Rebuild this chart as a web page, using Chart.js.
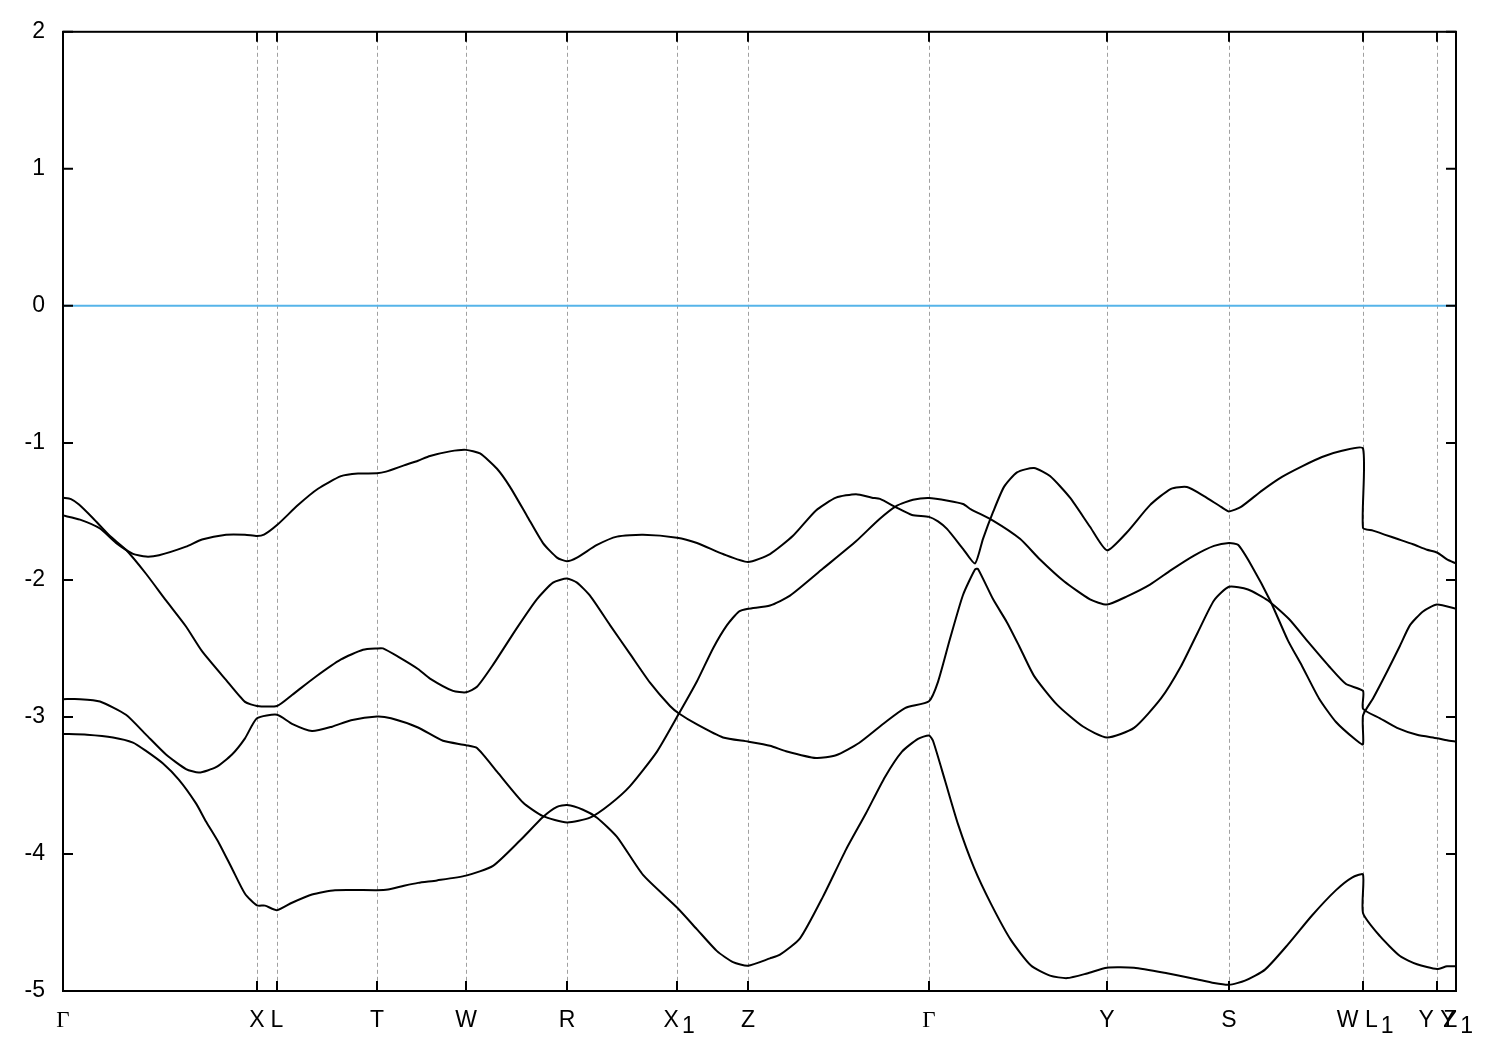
<!DOCTYPE html>
<html>
<head>
<meta charset="utf-8">
<script src="https://cdn.jsdelivr.net/npm/chart.js@4.4.1/dist/chart.umd.min.js"></script>
<style>
  html, body { margin: 0; padding: 0; background: #ffffff; }
  #bands { display: block; }
</style>
</head>
<body>
<canvas id="bands" width="1500" height="1050"></canvas>
<script>
// high-symmetry points along the k-path
const kTicks = [0, 1.94, 2.14, 3.14, 4.03, 5.04, 6.14, 6.85, 8.66, 10.44, 11.66, 13.00, 13.74, 13.93];
const kLabels = ['Γ', 'X', 'L', 'T', 'W', 'R', 'X', 'Z', 'Γ', 'Y', 'S', 'W L', 'Y Y', 'Z'];
const kSubs = ['', '', '', '', '', '', '1', '', '', '', '', '1', '', '1'];
const energyMin = -5;
const energyMax = 2;
const fermiLevel = 0;

// bands as [k, E] pairs
const band1 = [[0.00,-1.40],[0.08,-1.41],[0.16,-1.45],[0.30,-1.55],[0.47,-1.68],[0.63,-1.78],[0.83,-1.955],[1.03,-2.15],[1.23,-2.34],[1.39,-2.52],[1.63,-2.73],[1.82,-2.89],[1.94,-2.92],[2.14,-2.92],[2.29,-2.84],[2.52,-2.71],[2.78,-2.58],[3.00,-2.51],[3.14,-2.50],[3.20,-2.50],[3.35,-2.56],[3.55,-2.65],[3.67,-2.72],[3.90,-2.81],[4.03,-2.82],[4.14,-2.78],[4.30,-2.62],[4.54,-2.35],[4.74,-2.14],[4.90,-2.02],[5.04,-1.99],[5.14,-2.02],[5.27,-2.115],[5.47,-2.33],[5.67,-2.54],[5.87,-2.75],[6.07,-2.92],[6.16,-2.975],[6.34,-3.055],[6.60,-3.15],[6.85,-3.18],[7.07,-3.21],[7.23,-3.25],[7.53,-3.30],[7.73,-3.28],[7.96,-3.19],[8.22,-3.04],[8.42,-2.935],[8.66,-2.885],[8.75,-2.744],[8.87,-2.43],[9.00,-2.11],[9.12,-1.924],[9.15,-1.92],[9.30,-2.14],[9.44,-2.31],[9.56,-2.48],[9.71,-2.70],[9.94,-2.91],[10.20,-3.07],[10.44,-3.15],[10.71,-3.08],[10.98,-2.865],[11.18,-2.63],[11.35,-2.38],[11.51,-2.15],[11.66,-2.05],[11.85,-2.07],[12.05,-2.15],[12.26,-2.285],[12.46,-2.46],[12.66,-2.63],[12.83,-2.76],[13.00,-2.81],[13.00,-2.94],[13.17,-3.01],[13.34,-3.08],[13.54,-3.13],[13.74,-3.155],[13.84,-3.17],[13.93,-3.18]];

const band2 = [[0.00,-1.53],[0.17,-1.56],[0.37,-1.625],[0.53,-1.73],[0.70,-1.81],[0.83,-1.83],[0.96,-1.82],[1.23,-1.757],[1.39,-1.705],[1.63,-1.67],[1.82,-1.67],[1.94,-1.68],[2.01,-1.67],[2.14,-1.60],[2.35,-1.454],[2.55,-1.335],[2.78,-1.243],[2.95,-1.224],[3.14,-1.222],[3.23,-1.21],[3.41,-1.164],[3.55,-1.13],[3.67,-1.096],[3.87,-1.062],[4.03,-1.051],[4.17,-1.077],[4.34,-1.189],[4.47,-1.321],[4.64,-1.533],[4.80,-1.731],[4.94,-1.837],[5.04,-1.864],[5.14,-1.837],[5.34,-1.745],[5.54,-1.684],[5.80,-1.671],[6.14,-1.692],[6.34,-1.731],[6.60,-1.811],[6.85,-1.869],[7.07,-1.811],[7.30,-1.678],[7.53,-1.493],[7.73,-1.40],[7.93,-1.374],[8.09,-1.40],[8.17,-1.409],[8.33,-1.47],[8.49,-1.526],[8.66,-1.54],[8.75,-1.573],[8.84,-1.628],[9.00,-1.773],[9.12,-1.88],[9.20,-1.70],[9.30,-1.506],[9.41,-1.321],[9.54,-1.215],[9.71,-1.183],[9.87,-1.242],[10.07,-1.40],[10.27,-1.612],[10.44,-1.784],[10.64,-1.652],[10.87,-1.454],[11.08,-1.335],[11.24,-1.322],[11.41,-1.388],[11.58,-1.467],[11.66,-1.50],[11.78,-1.467],[11.99,-1.348],[12.19,-1.248],[12.39,-1.171],[12.59,-1.103],[12.79,-1.058],[13.00,-1.04],[13.00,-1.62],[13.10,-1.64],[13.34,-1.70],[13.50,-1.74],[13.64,-1.78],[13.74,-1.80],[13.84,-1.85],[13.93,-1.88]];

const band3 = [[0.00,-2.87],[0.17,-2.87],[0.37,-2.887],[0.63,-2.984],[0.83,-3.129],[1.03,-3.274],[1.23,-3.38],[1.36,-3.406],[1.53,-3.367],[1.69,-3.274],[1.82,-3.156],[1.94,-3.01],[2.14,-2.984],[2.29,-3.05],[2.49,-3.103],[2.69,-3.071],[2.88,-3.024],[3.14,-2.997],[3.28,-3.01],[3.55,-3.077],[3.80,-3.174],[4.03,-3.206],[4.14,-3.227],[4.34,-3.399],[4.60,-3.624],[4.80,-3.724],[5.04,-3.77],[5.27,-3.735],[5.47,-3.637],[5.67,-3.505],[5.94,-3.253],[6.16,-2.975],[6.34,-2.74],[6.50,-2.50],[6.64,-2.33],[6.76,-2.23],[6.85,-2.21],[7.07,-2.187],[7.27,-2.115],[7.60,-1.917],[7.93,-1.718],[8.16,-1.559],[8.34,-1.458],[8.50,-1.415],[8.66,-1.402],[8.85,-1.422],[9.00,-1.446],[9.08,-1.485],[9.30,-1.567],[9.57,-1.70],[9.77,-1.851],[10.01,-2.01],[10.27,-2.142],[10.44,-2.18],[10.64,-2.12],[10.87,-2.034],[11.08,-1.929],[11.31,-1.823],[11.51,-1.752],[11.66,-1.731],[11.75,-1.744],[11.88,-1.889],[12.07,-2.148],[12.25,-2.443],[12.39,-2.628],[12.56,-2.865],[12.73,-3.037],[12.93,-3.169],[13.00,-3.20],[13.00,-2.99],[13.10,-2.865],[13.24,-2.67],[13.37,-2.48],[13.47,-2.33],[13.60,-2.23],[13.74,-2.18],[13.93,-2.21]];

const band4 = [[0.00,-3.124],[0.24,-3.13],[0.50,-3.15],[0.70,-3.187],[0.83,-3.248],[1.00,-3.34],[1.16,-3.459],[1.33,-3.631],[1.43,-3.763],[1.56,-3.921],[1.69,-4.106],[1.82,-4.29],[1.94,-4.375],[2.02,-4.377],[2.14,-4.41],[2.29,-4.356],[2.49,-4.296],[2.72,-4.264],[3.14,-4.264],[3.25,-4.259],[3.41,-4.232],[3.55,-4.211],[3.74,-4.193],[4.03,-4.158],[4.30,-4.087],[4.57,-3.902],[4.80,-3.73],[4.94,-3.656],[5.04,-3.643],[5.20,-3.677],[5.34,-3.735],[5.54,-3.875],[5.80,-4.153],[6.14,-4.391],[6.34,-4.55],[6.54,-4.709],[6.70,-4.789],[6.85,-4.815],[7.07,-4.762],[7.17,-4.735],[7.37,-4.616],[7.60,-4.311],[7.83,-3.968],[8.03,-3.703],[8.22,-3.438],[8.39,-3.253],[8.55,-3.16],[8.66,-3.135],[8.70,-3.174],[8.82,-3.464],[8.95,-3.782],[9.11,-4.10],[9.28,-4.364],[9.48,-4.629],[9.68,-4.814],[9.87,-4.888],[10.04,-4.906],[10.24,-4.872],[10.44,-4.83],[10.71,-4.831],[11.04,-4.871],[11.31,-4.91],[11.51,-4.942],[11.66,-4.955],[11.82,-4.924],[12.02,-4.844],[12.25,-4.66],[12.49,-4.449],[12.73,-4.264],[12.89,-4.172],[13.00,-4.15],[13.00,-4.43],[13.17,-4.60],[13.37,-4.745],[13.54,-4.805],[13.74,-4.84],[13.84,-4.82],[13.93,-4.82]];

const bands = [band1, band2, band3, band4];

function toPoints(pairs) {
    return pairs.map(p => ({ x: p[0], y: p[1] }));
}

const labelFont = 'Liberation Sans, Arial, sans-serif';
const labelSize = 23;
const subGap = '\u2002'; // room left for a subscript after the base label

// gnuplot-like box with inward ticks (mirrored), plus subscripts on k labels
const framePlugin = {
    id: 'frame',
    afterDraw(chart) {
        const { ctx, chartArea: a, scales } = chart;
        ctx.save();
        ctx.strokeStyle = '#000';
        ctx.lineWidth = 2;
        ctx.beginPath();
        scales.y.ticks.forEach(t => {
            const y = scales.y.getPixelForValue(t.value);
            ctx.moveTo(a.left, y); ctx.lineTo(a.left + 10, y);
            ctx.moveTo(a.right, y); ctx.lineTo(a.right - 10, y);
        });
        kTicks.forEach(v => {
            const x = scales.x.getPixelForValue(v);
            ctx.moveTo(x, a.bottom); ctx.lineTo(x, a.bottom - 10);
            ctx.moveTo(x, a.top); ctx.lineTo(x, a.top + 10);
        });
        ctx.stroke();
        ctx.strokeRect(a.left, a.top, a.right - a.left, a.bottom - a.top);

        // subscripts: same size digit, dropped below the base line
        ctx.font = labelSize + 'px ' + labelFont;
        ctx.fillStyle = '#000';
        ctx.textAlign = 'left';
        ctx.textBaseline = 'alphabetic';
        kTicks.forEach((v, i) => {
            if (!kSubs[i]) return;
            const full = ctx.measureText(kLabels[i] + subGap).width;
            const base = ctx.measureText(kLabels[i]).width;
            const x = scales.x.getPixelForValue(v) - full / 2 + base + 3;
            ctx.fillText(kSubs[i], x, a.bottom + 42);
        });
        ctx.restore();
    }
};

const datasets = [{
    label: 'E_F',
    data: [{ x: kTicks[0], y: fermiLevel }, { x: kTicks[kTicks.length - 1], y: fermiLevel }],
    borderColor: '#56b4e9',
    borderWidth: 2,
    pointRadius: 0,
    tension: 0
}];
bands.forEach((b, i) => {
    datasets.push({
        label: 'band ' + (i + 1),
        data: toPoints(b),
        borderColor: '#000000',
        borderWidth: 2,
        pointRadius: 0,
        tension: 0.2
    });
});

const ctx = document.getElementById('bands').getContext('2d');
new Chart(ctx, {
    type: 'line',
    data: { datasets: datasets },
    options: {
        responsive: false,
        animation: false,
        devicePixelRatio: 1,
        layout: { padding: { top: 29, right: 44, bottom: 0, left: 0 } },
        plugins: {
            legend: { display: false },
            tooltip: { enabled: false }
        },
        scales: {
            x: {
                type: 'linear',
                min: kTicks[0],
                max: kTicks[kTicks.length - 1],
                afterBuildTicks: scale => {
                    scale.ticks = kTicks.map(v => ({ value: v }));
                },
                afterFit: scale => { scale.height = 59; },
                grid: {
                    drawTicks: false,
                    lineWidth: 1,
                    color: c => (c.index === 0 || c.index === kTicks.length - 1) ? 'rgba(0,0,0,0)' : '#a0a0a0'
                },
                border: { display: false, dash: [4, 3] },
                ticks: {
                    autoSkip: false,
                    maxRotation: 0,
                    padding: 16,
                    color: '#000',
                    font: c => ({
                        family: kLabels[c.index] === 'Γ' ? 'Liberation Serif, serif' : labelFont,
                        size: labelSize
                    }),
                    callback: (value, index) => kLabels[index] + (kSubs[index] ? subGap : '')
                }
            },
            y: {
                min: energyMin,
                max: energyMax,
                afterFit: scale => { scale.width = 63; },
                grid: { display: false, drawTicks: false },
                border: { display: false },
                ticks: {
                    stepSize: 1,
                    padding: 18,
                    color: '#000',
                    font: { family: labelFont, size: labelSize }
                }
            }
        }
    },
    plugins: [framePlugin]
});
</script>
</body>
</html>
